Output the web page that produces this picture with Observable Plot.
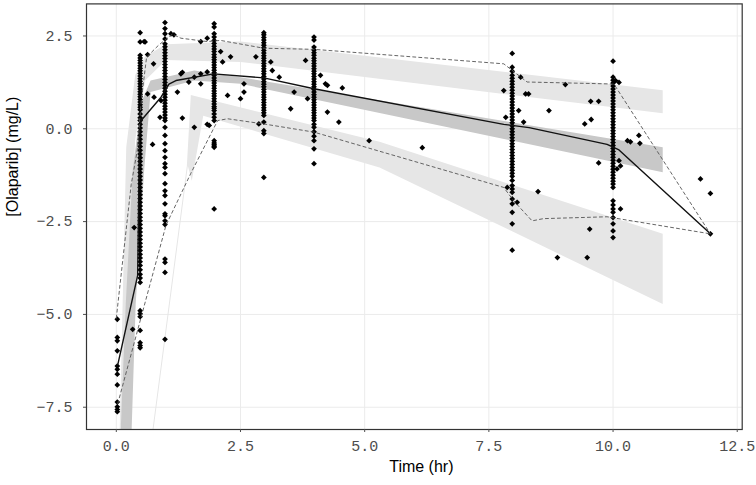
<!DOCTYPE html>
<html><head><meta charset="utf-8">
<script src="https://cdn.jsdelivr.net/npm/d3@7"></script>
<script src="https://cdn.jsdelivr.net/npm/@observablehq/plot@0.6"></script>
<style>body{margin:0;background:#fff}</style>
</head><body><div id="chart"></div>
<script>
// Tick values
const xTicks = [0, 2.5, 5, 7.5, 10, 12.5];
const yTicks = [-7.5, -5, -2.5, 0, 2.5];

// Observed concentrations per nominal time (log scale)
const obs0T = 0.02;
const obs0 = [-5.13,-5.62,-5.71,-5.98,-6.39,-6.48,-6.61,-6.90,-7.36,-7.49,-7.56,-7.62];
const obs05T = 0.48;
const obs05 = [2.59,2.34,1.98,1.91,1.84,1.77,1.70,1.63,1.56,1.49,1.42,1.35,1.28,1.21,1.14,1.07,1.00,0.93,0.86,0.79,0.72,0.65,0.58,0.51,0.40,0.30,0.22,0.12,0.02,-0.08,-0.18,-0.28,-0.38,-0.48,-0.58,-0.68,-0.78,-0.88,-0.98,-1.08,-1.18,-1.28,-1.38,-1.48,-1.58,-1.68,-1.78,-1.88,-1.98,-2.08,-2.18,-2.28,-2.38,-2.48,-2.58,-2.68,-2.78,-2.88,-2.98,-3.08,-3.18,-3.28,-3.38,-3.48,-3.58,-3.68,-3.80,-3.92,-4.02,-4.14,-4.90,-4.98,-5.06,-5.43,-5.76,-5.84,-5.90];
const obs1T = 0.98;
const obs1 = [2.86,2.70,2.56,2.42,2.29,2.21,2.13,2.05,1.97,1.89,1.81,1.73,1.65,1.57,1.49,1.41,1.33,1.25,1.17,1.09,1.01,0.93,0.85,0.77,0.69,0.61,0.53,0.45,0.37,0.29,0.22,0.04,-0.18,-0.40,-0.59,-0.77,-0.94,-1.04,-1.21,-1.48,-1.67,-1.80,-2.02,-2.29,-2.34,-2.48,-2.58,-3.51,-3.60,-3.87,-5.67];
const obs2T = 1.97;
const obs2 = [2.83,2.74,2.56,2.47,2.38,2.30,2.22,2.15,2.08,2.00,1.93,1.86,1.79,1.72,1.65,1.58,1.51,1.44,1.37,1.30,1.23,1.16,1.09,1.02,0.95,0.88,0.81,0.74,0.67,0.60,0.55,0.49,0.40,0.31,0.22,-0.32,-0.38,-0.43,-0.47,-0.50,-2.16];
const obs3T = 2.97;
const obs3 = [2.59,2.53,2.46,2.39,2.32,2.25,2.18,2.11,2.04,1.97,1.90,1.83,1.76,1.69,1.62,1.55,1.48,1.41,1.34,1.27,1.20,1.13,1.06,0.99,0.92,0.85,0.78,0.71,0.64,0.57,0.50,0.43,0.36,0.18,-0.05,-0.13,-1.31];
const obs4T = 3.98;
const obs4 = [2.47,2.39,2.20,2.12,2.05,1.98,1.90,1.83,1.76,1.69,1.62,1.55,1.48,1.41,1.34,1.27,1.20,1.13,1.06,0.99,0.92,0.85,0.78,0.71,0.64,0.57,0.50,0.43,0.36,0.29,0.22,0.12,0.04,-0.08,-0.20,-0.32,-0.54,-0.94];
const obs8T = 7.97;
const obs8 = [2.03,1.66,1.55,1.44,1.36,1.28,1.20,1.12,1.04,0.96,0.88,0.80,0.72,0.64,0.56,0.48,0.40,0.32,0.24,0.16,0.08,0.00,-0.08,-0.16,-0.24,-0.32,-0.40,-0.48,-0.56,-0.64,-0.72,-0.80,-0.88,-0.96,-1.04,-1.12,-1.20,-1.28,-1.39,-1.53,-1.62,-1.71,-1.89,-2.02,-2.25,-2.56,-3.27];
const obs10T = 10.0;
const obs10 = [1.82,1.39,1.31,1.23,1.15,1.07,0.99,0.91,0.83,0.75,0.67,0.59,0.51,0.43,0.35,0.27,0.19,0.11,0.03,-0.05,-0.13,-0.21,-0.29,-0.37,-0.45,-0.53,-0.61,-0.69,-0.77,-0.85,-0.93,-1.01,-1.09,-1.17,-1.25,-1.33,-1.41,-1.49,-1.58,-1.94,-2.05,-2.16,-2.25,-2.39,-2.56,-2.75,-2.93];

// Off-nominal observations
const scatterT = [0.33,0.36,0.58,0.63,0.75,0.73,0.76,0.90,0.88,0.63,0.56,1.10,1.16,1.23,1.30,1.33,1.33,1.46,1.57,1.57,1.70,1.70,1.83,1.83,1.87,1.83,1.70,2.10,2.14,2.30,2.24,2.50,2.57,2.57,2.81,3.11,3.14,3.28,3.51,3.58,2.87,3.81,4.11,4.21,4.25,4.55,4.25,4.48,3.85,5.09,6.16,8.14,8.24,8.30,7.80,7.84,8.10,8.20,7.87,8.07,8.71,8.49,9.04,9.55,9.71,9.43,9.56,9.71,9.53,8.88,9.48,10.05,10.12,10.29,10.35,10.52,10.54,10.12,10.15,10.08,10.15,11.76,11.96,11.96];
const scatterY = [-5.40,-2.66,2.34,2.00,1.75,-0.42,0.85,0.76,0.31,0.94,2.35,2.56,2.53,0.99,1.48,1.52,0.29,1.26,0.04,1.39,1.21,1.48,1.53,0.12,0.09,2.44,2.35,2.08,1.80,1.94,0.90,0.81,1.21,0.99,1.94,1.80,1.57,1.39,0.54,0.99,0.13,1.84,1.44,1.21,1.17,1.10,0.45,0.18,0.81,-0.32,-0.51,1.39,0.94,0.94,1.03,0.31,0.49,0.18,-1.58,-1.98,0.49,-1.69,1.19,0.74,0.74,0.13,0.25,-0.92,-2.70,-3.47,-3.47,1.30,1.25,-0.32,-0.35,-0.18,-0.39,-0.86,-1.00,-1.08,-2.16,-1.35,-1.74,-2.83];

// Observed percentile lines
const medT  = [0.03,0.43,0.47,0.53,0.90,1.06,1.20,1.96,2.97,3.98,7.80,8.31,9.88,10.12,11.96];
const medY  = [-6.35,-3.95,0.10,0.27,0.85,1.20,1.30,1.48,1.37,1.08,0.12,0.03,-0.42,-0.57,-2.83];
const p95T  = [0.00,0.30,0.42,0.51,0.61,0.85,1.13,1.30,1.83,2.10,2.97,3.98,7.80,8.27,9.88,10.02,11.96];
const p95Y  = [-5.10,-1.50,-0.60,0.85,1.93,2.25,2.55,2.44,2.35,2.38,2.17,2.14,1.75,1.26,1.21,1.20,-2.83];
const p05T  = [0.03,1.00,1.50,2.04,2.24,2.97,3.98,7.80,8.00,8.37,8.60,9.88,10.15,11.96];
const p05Y  = [-7.40,-2.60,-1.20,0.22,0.27,0.13,-0.09,-1.58,-1.94,-2.48,-2.42,-2.37,-2.43,-2.83];

// Simulated confidence bands (upper = 95th pct CI, median CI, lower = 5th pct CI)
const upHiT = [0.06,0.20,0.38,0.58,1.00,2.50,11.0];
const upHi  = [-8.6,-0.5,1.45,1.95,2.28,2.35,1.04];
const upLoT = [0.06,0.20,0.38,0.58,1.00,2.50,11.0];
const upLo  = [-8.6,-6.0,-0.3,1.30,1.85,1.80,0.42];
const mdHiT = [0.05,0.09,0.19,0.33,0.50,0.69,1.57,2.50,11.0];
const mdHi  = [-9.0,-8.05,-4.72,-1.13,0.70,1.30,1.57,1.39,-0.50];
const mdLoT = [0.28,0.31,0.39,0.56,0.69,1.57,2.50,11.0];
const mdLo  = [-9.0,-8.05,-4.72,-1.13,0.99,1.30,1.21,-1.17];
const loHiT = [0.68,1.42,1.50,5.30,11.0];
const loHi  = [-8.6,-1.0,0.91,-0.35,-2.83];
const loLoT = [0.70,1.44,1.52,1.75,5.30,11.0];
const loLo  = [-8.6,-1.0,-1.4,0.35,-1.04,-4.72];

const xLabel = "Time (hr)";
const yLabel = "[Olaparib] (mg/L)";

// Build tables
const points = [];
[[obs0T,obs0],[obs05T,obs05],[obs1T,obs1],[obs2T,obs2],[obs3T,obs3],[obs4T,obs4],[obs8T,obs8],[obs10T,obs10]]
  .forEach(([t, ys]) => ys.forEach(y => points.push({t, y})));
scatterT.forEach((t, i) => points.push({t, y: scatterY[i]}));

const zip = (ts, ys) => ts.map((t, i) => ({t, y: ys[i]}));
const poly = (hT, h, lT, l) => zip(hT, h).concat(zip(lT, l).reverse());
const upperBand = poly(upHiT, upHi, upLoT, upLo);
const medBand = poly(mdHiT, mdHi, mdLoT, mdLo);
const lowerBand = poly(loHiT, loHi, loLoT, loLo);

const fmt = d3.format(".1f");
const chart = Plot.plot({
  width: 756, height: 485,
  marginLeft: 86, marginRight: 14.3, marginTop: 3.4, marginBottom: 56,
  x: {domain: [-0.6, 12.6]},
  y: {domain: [-8.1, 3.364]},
  style: {background: "#fff"},
  marks: [
    Plot.gridX(xTicks, {stroke: "#ebebeb", strokeOpacity: 1, strokeWidth: 1}),
    Plot.gridY(yTicks, {stroke: "#ebebeb", strokeOpacity: 1, strokeWidth: 1}),
    Plot.line(upperBand, {x: "t", y: "y", fill: "#e6e6e6", stroke: "none", clip: true, curve: "linear-closed"}),
    Plot.line(lowerBand, {x: "t", y: "y", fill: "#e6e6e6", stroke: "none", clip: true, curve: "linear-closed"}),
    Plot.line(medBand, {x: "t", y: "y", fill: "#c8c8c8", stroke: "none", clip: true, curve: "linear-closed"}),
    Plot.dot(points, {x: "t", y: "y", symbol: "diamond2", r: 2.6, fill: "#000", stroke: "none"}),
    Plot.line(zip(medT, medY), {x: "t", y: "y", stroke: "#111", strokeWidth: 1.4}),
    Plot.line(zip(p95T, p95Y), {x: "t", y: "y", stroke: "#555", strokeWidth: 0.9, strokeDasharray: "3,3"}),
    Plot.line(zip(p05T, p05Y), {x: "t", y: "y", stroke: "#555", strokeWidth: 0.9, strokeDasharray: "3,3"}),
    Plot.frame({stroke: "#333", strokeWidth: 1.2}),
    Plot.axisX(xTicks, {tickFormat: fmt, tickSize: 3, tickPadding: 8, fontSize: 15, fontFamily: "Liberation Mono", color: "#4d4d4d", label: null}),
    Plot.axisY(yTicks, {tickFormat: fmt, tickSize: 3, tickPadding: 11, fontSize: 15, fontFamily: "Liberation Mono", color: "#4d4d4d", label: null}),
    Plot.text([xLabel], {text: d => d, frameAnchor: "bottom", dy: 42, dx: 7, fontSize: 16, fontFamily: "Liberation Sans", fill: "#000"}),
    Plot.text([yLabel], {text: d => d, frameAnchor: "left", dx: -74, rotate: -90, fontSize: 16, fontFamily: "Liberation Sans", fill: "#000"})
  ]
});
document.getElementById("chart").appendChild(chart);
</script>
</body></html>
